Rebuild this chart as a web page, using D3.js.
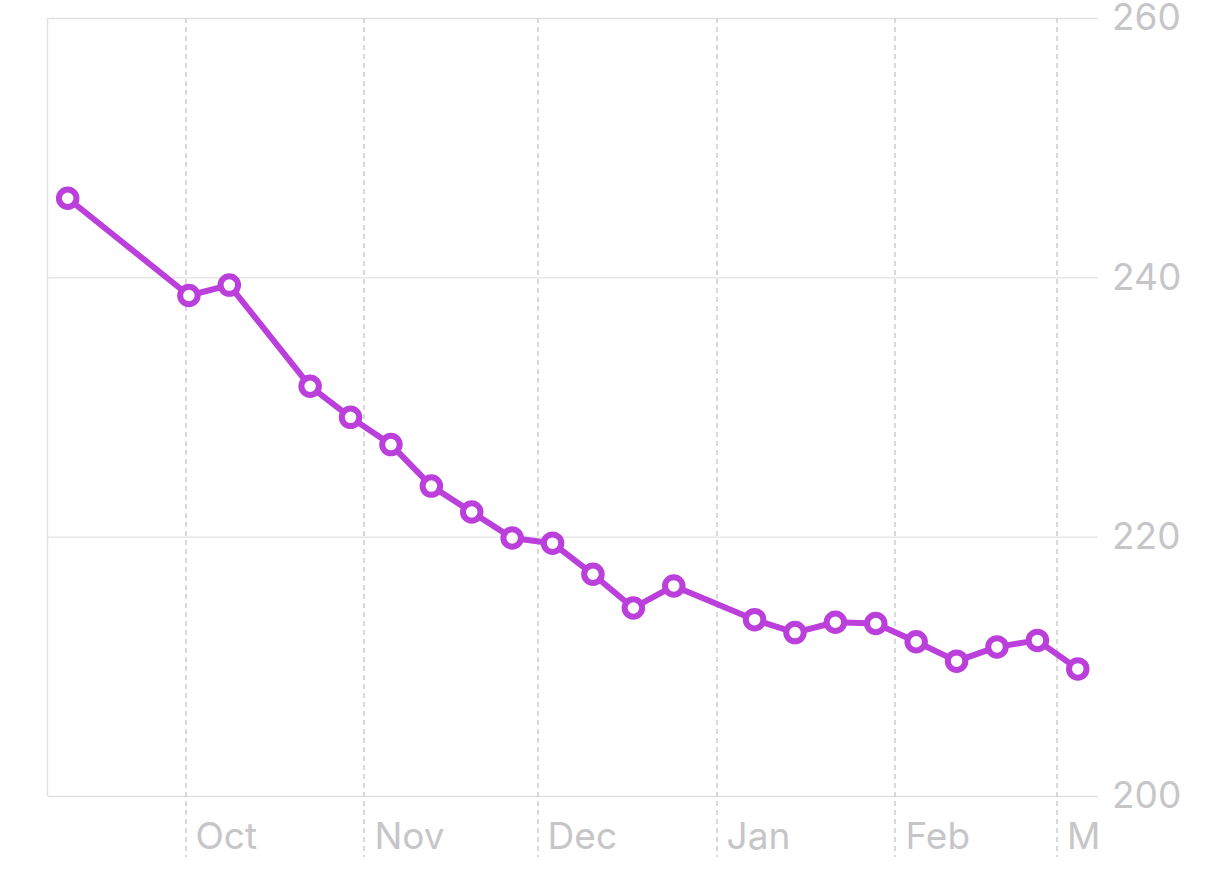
<!DOCTYPE html>
<html>
<head>
<meta charset="utf-8">
<script src="https://cdn.jsdelivr.net/npm/d3@7"></script>
<style>
  body { margin: 0; background: #fff; }
  svg { display: block; font-family: Inter, "Noto Sans", sans-serif; }
</style>
</head>
<body>
<svg></svg>
<script>
const W = 1206
const H = 894
const margin = { top: 18, right: 108, bottom: 98, left: 47.5 }
const width = W - margin.left - margin.right
const height = H - margin.top - margin.bottom

// weekly readings (noon), one week missing in Sept, Oct and Dec
const dates = [
    '2022-09-10', '2022-10-01', '2022-10-08', '2022-10-22', '2022-10-29',
    '2022-11-05', '2022-11-12', '2022-11-19', '2022-11-26', '2022-12-03',
    '2022-12-10', '2022-12-17', '2022-12-24', '2023-01-07', '2023-01-14',
    '2023-01-21', '2023-01-28', '2023-02-04', '2023-02-11', '2023-02-18',
    '2023-02-25', '2023-03-04'
]
const values = [
    246.1, 238.6, 239.4, 231.6, 229.2,
    227.1, 223.9, 221.9, 219.9, 219.5,
    217.1, 214.5, 216.2, 213.6, 212.6,
    213.4, 213.3, 211.9, 210.4, 211.5,
    212.0, 209.8
]
const yTicks = [200, 220, 240, 260]
const xDomain = ['2022-09-07', '2023-03-08']

const parse = d3.timeParse('%Y-%m-%d')
const data = dates.map((d, i) => ({ date: d3.timeHour.offset(parse(d), 12), value: values[i] }))

const purple = '#bb3fdb'
const labelColor = '#c6c6c9'

const svg = d3.select('svg')
    .attr('width', W)
    .attr('height', H)
    .append('g')
    .attr('transform', `translate(${margin.left},${margin.top})`)

const x = d3.scaleTime()
    .domain(xDomain.map(parse))
    .range([0, width])
const y = d3.scaleLinear()
    .domain([200, 260])
    .range([height, 0])

// horizontal grid
svg.append('g')
    .attr('transform', `translate(${width},0)`)
    .call(d3.axisLeft(y).tickValues(yTicks).tickSize(width).tickFormat(''))
    .call(g => g.select('.domain').remove())
    .call(g => g.selectAll('line').attr('stroke', '#e1e1e3').attr('stroke-width', 1.4))

// left border
svg.append('line')
    .attr('x1', 0).attr('x2', 0)
    .attr('y1', 0).attr('y2', height)
    .attr('stroke', '#e1e1e3')
    .attr('stroke-width', 1.4)

// month lines, dashed, running down past the axis
const months = x.ticks(d3.timeMonth.every(1))
svg.append('g')
    .selectAll('line')
    .data(months)
    .enter()
    .append('line')
    .attr('x1', d => Math.round(x(d)) - 0.5)
    .attr('x2', d => Math.round(x(d)) - 0.5)
    .attr('y1', 0)
    .attr('y2', height + 61)
    .attr('stroke', '#d0d0d4')
    .attr('stroke-width', 1.6)
    .attr('stroke-dasharray', '5,4')

// y labels on the right
svg.append('g')
    .attr('transform', `translate(${width},0)`)
    .call(d3.axisRight(y).tickValues(yTicks).tickSize(0).tickPadding(14))
    .call(g => g.select('.domain').remove())
    .call(g => g.selectAll('text')
        .attr('fill', labelColor)
        .attr('font-size', 37)
        .attr('font-family', 'Inter, "Noto Sans", sans-serif'))

// month labels, clipped at the plot edge (clip is in the axis group's own space)
svg.append('clipPath')
    .attr('id', 'xclip')
    .append('rect')
    .attr('x', 0).attr('y', 0)
    .attr('width', width).attr('height', 100)

svg.append('g')
    .attr('clip-path', 'url(#xclip)')
    .attr('transform', `translate(0,${height})`)
    .call(d3.axisBottom(x).tickValues(months).tickFormat(d3.timeFormat('%b')).tickSize(0))
    .call(g => g.select('.domain').remove())
    .call(g => g.selectAll('text')
        .attr('text-anchor', 'start')
        .attr('x', 9)
        .attr('y', 53)
        .attr('dy', null)
        .attr('fill', labelColor)
        .attr('font-size', 37)
        .attr('font-family', 'Inter, "Noto Sans", sans-serif'))

// line
const line = d3.line()
    .x(d => x(d.date))
    .y(d => y(d.value))

svg.append('path')
    .datum(data)
    .attr('fill', 'none')
    .attr('stroke', purple)
    .attr('stroke-width', 6)
    .attr('stroke-linejoin', 'round')
    .attr('d', line)

svg.append('g')
    .selectAll('circle')
    .data(data)
    .enter()
    .append('circle')
    .attr('cx', d => x(d.date))
    .attr('cy', d => y(d.value))
    .attr('r', 8.75)
    .attr('fill', '#fff')
    .attr('stroke', purple)
    .attr('stroke-width', 6)
</script>
</body>
</html>
